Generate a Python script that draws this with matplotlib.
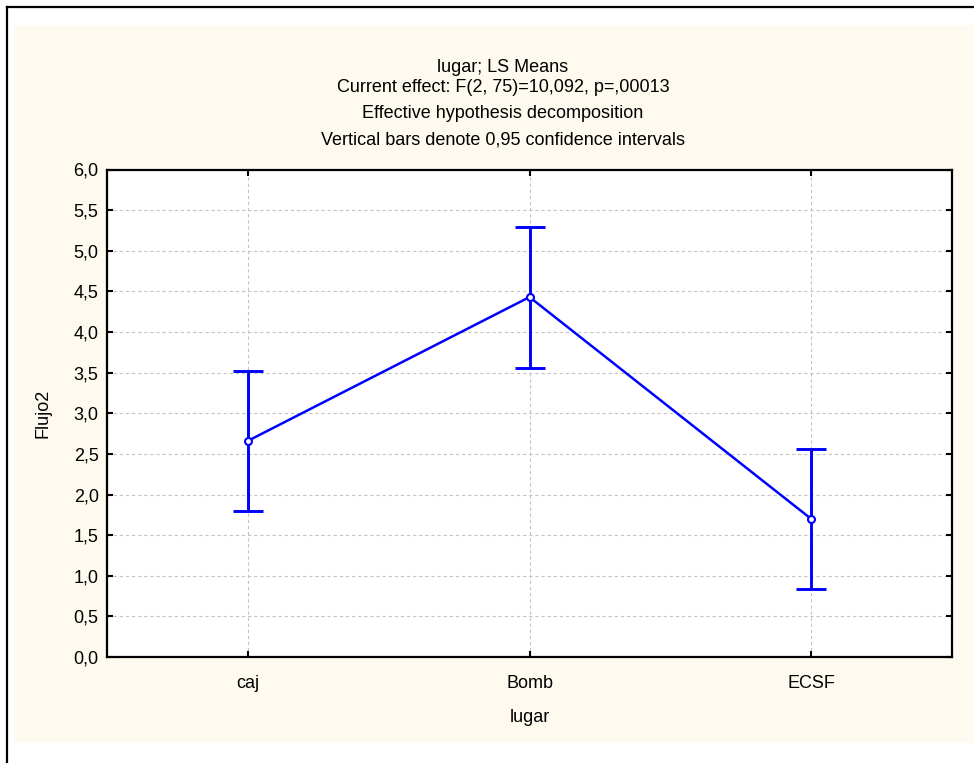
import matplotlib
matplotlib.use('Agg')
import matplotlib.pyplot as plt
from matplotlib.patches import Rectangle
from matplotlib.lines import Line2D
from matplotlib.ticker import FuncFormatter

plt.rcParams['font.family'] = ['Liberation Sans', 'DejaVu Sans']
plt.rcParams['font.size'] = 13

# LS means of Flujo2 by lugar, with 0,95 confidence limits
lugar = ['caj', 'Bomb', 'ECSF']
means = [2.66, 4.43, 1.70]
lower = [1.80, 3.56, 0.84]
upper = [3.52, 5.29, 2.56]
titles = ['lugar; LS Means',
          'Current effect: F(2, 75)=10,092, p=,00013',
          'Effective hypothesis decomposition',
          'Vertical bars denote 0,95 confidence intervals']

W, H = 974, 763
fig = plt.figure(figsize=(W / 100, H / 100), dpi=100)
fig.patch.set_facecolor('white')

# cream panel and the black frame lines
fig.patches.append(Rectangle((14 / W, 1 - 743 / H), 960 / W, 718 / H,
                             transform=fig.transFigure, facecolor='#fefaf0',
                             edgecolor='none', zorder=-10))
fig.lines.append(Line2D([7 / W, 1], [1 - 7 / H, 1 - 7 / H],
                        transform=fig.transFigure, color='black', lw=1.6,
                        zorder=-5))
fig.lines.append(Line2D([7 / W, 7 / W], [0, 1 - 7 / H],
                        transform=fig.transFigure, color='black', lw=1.6,
                        zorder=-5))

ax = fig.add_axes([107 / W, 1 - 657 / H, 845 / W, 487.5 / H])
ax.set_zorder(1)
ax.set_facecolor('white')

x = list(range(len(lugar)))
yerr = [[m - lo for m, lo in zip(means, lower)],
        [hi - m for m, hi in zip(means, upper)]]
ax.errorbar(x, means, yerr=yerr, fmt='none', ecolor='#0000ff',
            elinewidth=2.1, capsize=10.5, capthick=2.1, zorder=3)
ax.plot(x, means, color='#0000ff', lw=1.8, marker='o', ms=5,
        mfc='white', mec='#0000ff', mew=1.5, zorder=4)

ax.set_xlim(-0.5, 2.5)
ax.set_ylim(0, 6)
ax.set_xticks(x)
ax.set_xticklabels(lugar)
ax.set_yticks([i * 0.5 for i in range(13)])
ax.yaxis.set_major_formatter(FuncFormatter(lambda v, p: f'{v:.1f}'.replace('.', ',')))
ax.tick_params(direction='in', length=4, width=1.5, top=True, right=True,
               pad=6, colors='black', labelsize=13)
ax.tick_params(axis='x', pad=13)
for s in ax.spines.values():
    s.set_linewidth(1.6)
ax.grid(True, color='#c4c4c4', lw=0.8, ls=(0, (3, 2.5)))
ax.set_axisbelow(True)

ax.set_xlabel('lugar', labelpad=12)
ax.set_ylabel('Flujo2', labelpad=16)

for t, yp in zip(titles, [68, 88, 113, 140]):
    fig.text(503 / W, 1 - yp / H, t, ha='center', va='center', fontsize=13)

fig.savefig('out.png', dpi=100)
